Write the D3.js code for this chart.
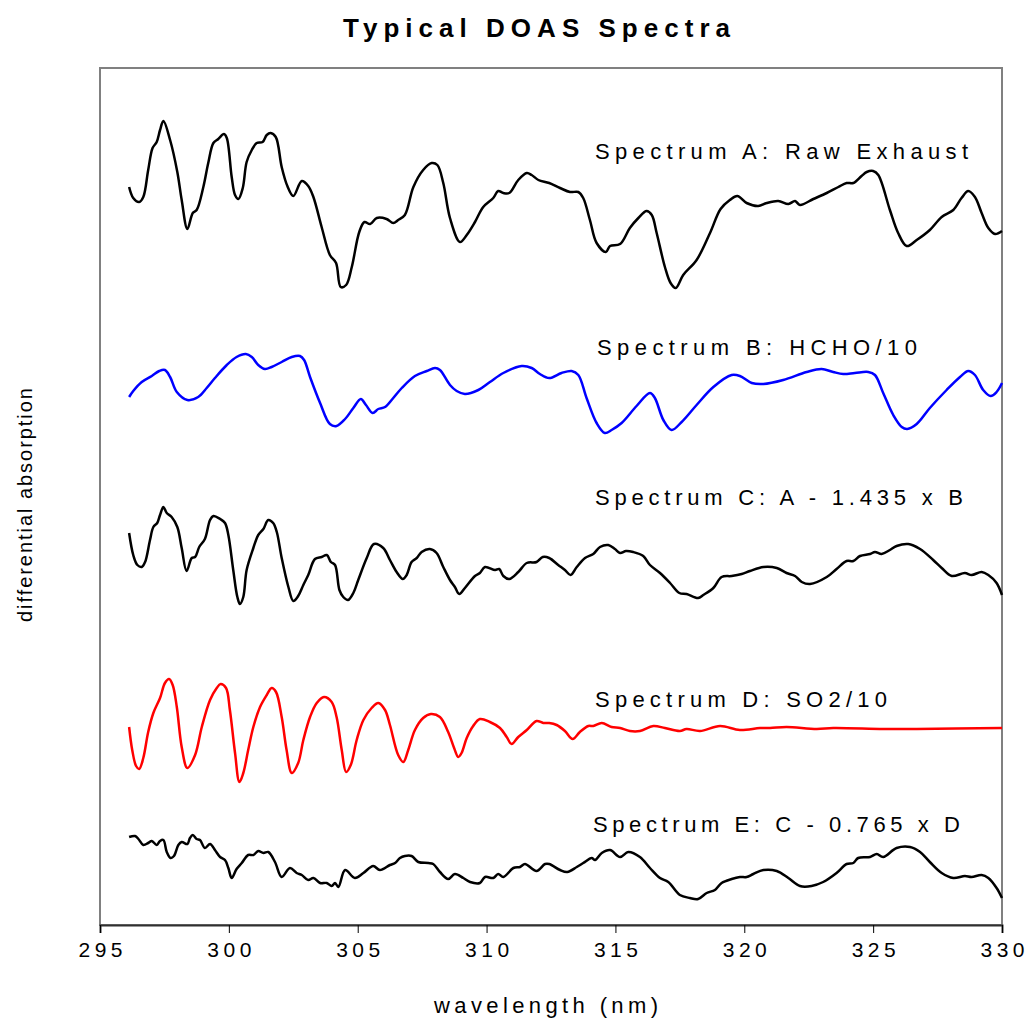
<!DOCTYPE html>
<html><head><meta charset="utf-8">
<script src="https://cdn.jsdelivr.net/npm/d3@7"></script>
<style>
body{margin:0;background:#fff}
text{font-family:"Liberation Sans",Arial,sans-serif;fill:#000}
</style>
</head><body>
<svg id="chart" width="1025" height="1019"></svg>
<script>
// ---------- data (wavelength nm, differential absorption, arbitrary offset units) ----------
const xTicks = [295,300,305,310,315,320,325,330];
const seriesNames = ["Spectrum A: Raw Exhaust","Spectrum B: HCHO/10","Spectrum C: A - 1.435 x B","Spectrum D: SO2/10","Spectrum E: C - 0.765 x D"];
const seriesColors = ["#000000","#0000ff","#000000","#ff0000","#000000"];

const spectrumA = [[296.13,73.8],[296.29,72.7],[296.52,72.3],[296.68,72.8],[296.87,75.5],[297.04,77.7],[297.20,78.3],[297.33,79.5],[297.46,80.4],[297.72,78.5],[298.00,75.3],[298.17,72.5],[298.39,69.6],[298.60,71.2],[298.75,71.5],[299.01,73.8],[299.20,76.2],[299.40,78.2],[299.59,78.6],[299.81,79.1],[299.92,78.7],[300.11,74.8],[300.24,73.0],[300.37,72.6],[300.54,73.7],[300.69,76.3],[300.89,77.5],[301.08,78.2],[301.31,78.3],[301.47,79.0],[301.62,79.2],[301.82,78.8],[302.05,75.8],[302.27,73.9],[302.50,72.9],[302.83,74.4],[303.08,73.9],[303.28,72.8],[303.60,69.8],[303.92,67.0],[304.16,66.2],[304.34,63.8],[304.55,64.0],[304.77,65.8],[305.06,69.3],[305.26,70.3],[305.48,70.1],[305.74,70.7],[306.12,70.6],[306.38,70.2],[306.57,70.5],[306.83,71.0],[307.16,73.8],[307.54,75.5],[307.87,76.2],[308.09,76.0],[308.32,74.2],[308.58,70.7],[308.97,68.3],[309.23,69.0],[309.55,70.3],[309.87,71.8],[310.26,72.7],[310.45,73.4],[310.65,73.2],[310.88,73.2],[311.23,74.5],[311.56,75.2],[311.75,75.0],[312.01,74.5],[312.43,74.2],[312.85,73.7],[313.24,73.3],[313.56,73.3],[313.75,72.7],[314.01,70.5],[314.27,68.2],[314.63,67.3],[314.79,67.9],[315.18,68.1],[315.56,69.7],[315.89,70.7],[316.21,71.4],[316.41,71.0],[316.60,69.2],[316.92,65.8],[317.14,64.2],[317.34,63.7],[317.63,65.0],[318.15,66.5],[318.67,69.2],[319.08,71.6],[319.44,72.5],[319.73,72.9],[320.09,72.2],[320.54,71.9],[320.87,72.2],[321.32,72.4],[321.71,72.1],[321.97,72.4],[322.16,72.0],[322.68,72.6],[323.20,73.2],[323.65,73.8],[323.97,74.2],[324.23,74.2],[324.55,74.9],[324.75,75.3],[325.00,75.4],[325.20,75.0],[325.65,71.5],[325.97,69.2],[326.30,67.9],[326.69,68.5],[327.20,69.5],[327.66,70.8],[328.11,71.5],[328.43,72.7],[328.69,73.4],[328.95,72.8],[329.21,71.2],[329.47,69.7],[329.73,69.1],[330.00,69.4]];

const spectrumB = [[296.13,52.8],[296.29,53.4],[296.62,54.3],[297.01,54.9],[297.30,55.4],[297.52,55.5],[297.72,54.8],[297.98,53.3],[298.39,52.5],[298.81,52.8],[299.14,53.7],[299.46,54.7],[299.92,56.0],[300.30,56.8],[300.66,57.1],[300.89,56.8],[301.14,56.0],[301.40,55.6],[301.66,55.8],[302.05,56.3],[302.44,56.8],[302.76,56.9],[302.92,56.5],[303.15,54.8],[303.54,52.2],[303.92,50.1],[304.18,49.9],[304.51,50.6],[304.83,51.7],[305.12,52.6],[305.32,52.0],[305.58,51.2],[305.80,51.6],[306.06,51.8],[306.38,52.7],[306.71,53.7],[307.22,54.9],[307.68,55.4],[308.00,55.7],[308.19,55.5],[308.58,54.0],[308.84,53.4],[309.16,53.1],[309.68,53.5],[310.13,54.3],[310.65,55.2],[311.36,55.9],[311.75,55.7],[312.07,55.1],[312.43,54.7],[312.91,55.2],[313.30,55.4],[313.56,55.0],[313.88,52.7],[314.27,50.2],[314.59,49.2],[314.85,49.5],[315.24,50.2],[315.82,51.9],[316.34,53.2],[316.53,52.7],[316.86,50.5],[317.18,49.5],[317.57,50.3],[318.15,52.0],[318.80,53.8],[319.51,55.0],[319.83,54.9],[320.29,54.2],[320.74,54.1],[321.51,54.5],[322.42,55.3],[323.00,55.6],[323.45,55.3],[323.84,55.1],[324.29,55.2],[324.81,55.3],[325.07,55.0],[325.39,53.2],[325.78,51.0],[326.11,49.8],[326.32,49.6],[326.69,50.1],[327.20,51.7],[327.85,53.5],[328.37,54.8],[328.69,55.4],[328.95,55.0],[329.27,53.5],[329.56,52.9],[329.79,53.3],[330.00,54.2]];

const spectrumC = [[296.13,39.2],[296.29,37.0],[296.45,36.0],[296.62,35.8],[296.75,36.3],[296.94,38.5],[297.07,39.8],[297.22,40.2],[297.33,41.0],[297.46,41.8],[297.59,41.2],[297.78,40.8],[298.00,39.8],[298.17,37.7],[298.36,35.4],[298.56,36.7],[298.69,36.8],[298.85,37.8],[299.07,38.6],[299.27,40.5],[299.40,40.9],[299.66,40.6],[299.85,40.2],[299.98,39.0],[300.17,35.5],[300.33,32.8],[300.43,32.1],[300.56,32.8],[300.69,35.5],[300.95,37.7],[301.14,39.0],[301.34,39.6],[301.53,40.5],[301.72,40.2],[301.86,39.3],[302.05,36.7],[302.31,33.8],[302.50,32.4],[302.69,32.9],[302.89,34.0],[303.08,35.0],[303.34,36.6],[303.60,36.8],[303.80,37.0],[303.96,36.3],[304.12,36.0],[304.29,33.5],[304.44,32.8],[304.63,32.5],[304.83,33.2],[305.02,34.5],[305.35,36.7],[305.63,38.1],[305.99,37.7],[306.25,36.5],[306.51,35.3],[306.75,34.6],[306.90,35.0],[307.09,36.3],[307.29,36.7],[307.48,37.3],[307.80,37.6],[308.06,37.2],[308.32,35.8],[308.58,34.5],[308.77,33.8],[308.94,33.1],[309.16,33.7],[309.55,34.9],[309.74,35.2],[309.94,35.8],[310.33,35.5],[310.49,35.6],[310.65,34.9],[310.88,34.6],[311.23,35.3],[311.56,36.2],[311.94,36.3],[312.18,36.8],[312.43,36.7],[312.78,36.0],[313.04,35.5],[313.26,35.0],[313.50,35.8],[313.82,36.7],[314.14,37.1],[314.40,37.8],[314.72,38.0],[314.98,37.6],[315.18,37.2],[315.41,37.4],[315.69,37.3],[316.08,36.9],[316.34,36.0],[316.73,35.2],[317.12,34.2],[317.48,33.2],[317.76,33.1],[318.21,32.7],[318.41,33.0],[318.80,33.7],[319.12,34.8],[319.51,34.9],[319.90,35.1],[320.22,35.4],[320.74,35.8],[321.26,35.7],[321.64,35.2],[321.97,34.9],[322.23,34.3],[322.55,34.1],[323.20,34.8],[323.58,35.6],[323.97,36.4],[324.23,36.4],[324.49,36.9],[324.88,37.1],[325.07,37.3],[325.33,37.1],[325.65,37.5],[325.91,37.9],[326.36,38.1],[326.82,37.6],[327.33,36.5],[327.66,35.7],[328.05,34.9],[328.56,35.2],[328.82,35.0],[329.21,35.3],[329.47,35.0],[329.79,34.2],[330.00,33.0]];

const spectrumD = [[296.13,19.8],[296.25,17.5],[296.40,15.9],[296.52,15.6],[296.68,16.7],[296.87,19.3],[297.07,21.2],[297.33,22.7],[297.52,24.2],[297.68,24.6],[297.82,24.0],[297.98,21.8],[298.17,17.8],[298.39,15.7],[298.69,17.0],[298.95,19.8],[299.27,22.5],[299.53,23.7],[299.68,24.1],[299.89,23.7],[300.04,21.5],[300.24,17.2],[300.41,14.3],[300.56,15.2],[300.75,17.5],[300.95,19.8],[301.21,21.8],[301.47,23.0],[301.66,23.7],[301.83,23.3],[302.05,20.8],[302.24,17.5],[302.44,15.2],[302.69,16.2],[302.89,18.5],[303.15,20.8],[303.41,22.2],[303.69,22.8],[303.99,22.3],[304.18,20.8],[304.38,17.5],[304.55,15.3],[304.73,16.0],[304.96,18.5],[305.22,20.5],[305.54,21.7],[305.80,22.2],[306.06,21.5],[306.25,20.0],[306.57,17.0],[306.77,16.3],[306.96,17.5],[307.22,19.5],[307.54,20.7],[307.84,21.1],[308.19,20.8],[308.51,19.3],[308.74,17.7],[308.90,16.8],[309.03,17.2],[309.23,18.7],[309.48,19.9],[309.74,20.6],[310.13,20.3],[310.52,19.7],[310.78,18.8],[310.97,18.1],[311.23,18.8],[311.56,19.5],[311.94,20.4],[312.20,20.2],[312.43,20.2],[312.72,20.0],[313.04,19.4],[313.34,18.6],[313.62,19.3],[313.95,19.9],[314.14,19.9],[314.47,20.2],[314.85,19.8],[315.18,19.7],[315.56,19.4],[315.95,19.4],[316.47,19.9],[316.92,19.7],[317.50,19.4],[317.76,19.6],[318.28,19.4],[319.06,19.9],[319.83,19.5],[320.61,19.7],[321.00,19.7],[321.64,19.8],[322.81,19.6],[323.45,19.7],[325.39,19.6],[326.69,19.6],[330.00,19.7]];

const spectrumE = [[296.13,8.8],[296.36,8.9],[296.49,8.6],[296.68,8.0],[296.87,8.2],[297.01,8.4],[297.20,8.0],[297.33,8.4],[297.46,8.5],[297.59,7.3],[297.74,6.7],[297.87,6.9],[298.04,8.0],[298.17,8.3],[298.39,8.1],[298.49,8.7],[298.60,9.0],[298.75,8.6],[298.88,8.5],[299.07,7.7],[299.27,8.1],[299.46,7.5],[299.66,6.8],[299.85,6.5],[299.98,5.7],[300.11,4.7],[300.30,5.6],[300.50,6.2],[300.75,7.0],[300.95,7.0],[301.14,7.4],[301.34,7.2],[301.53,7.3],[301.79,6.3],[302.05,4.8],[302.37,5.7],[302.63,5.2],[302.83,5.0],[303.08,4.5],[303.28,4.7],[303.54,4.2],[303.80,4.2],[303.99,3.9],[304.12,4.2],[304.25,3.8],[304.51,5.5],[304.89,4.7],[305.22,5.2],[305.60,5.9],[305.86,5.5],[306.25,6.0],[306.45,6.2],[306.64,6.7],[306.83,6.9],[307.09,6.9],[307.35,6.3],[307.74,6.2],[307.93,6.1],[308.19,5.3],[308.51,4.6],[308.77,5.1],[309.10,4.7],[309.36,4.3],[309.74,4.2],[309.94,4.8],[310.26,4.7],[310.45,5.1],[310.65,4.8],[311.04,5.7],[311.30,5.8],[311.49,6.1],[311.94,5.4],[312.27,6.1],[312.43,6.1],[312.85,5.5],[313.13,5.3],[313.50,5.8],[313.75,6.2],[314.08,6.7],[314.21,6.5],[314.47,7.2],[314.79,7.5],[315.18,6.8],[315.50,7.3],[315.95,6.8],[316.34,5.7],[316.73,4.7],[317.05,4.3],[317.50,3.0],[317.89,2.7],[318.21,2.6],[318.54,3.2],[318.86,3.5],[319.12,4.2],[319.51,4.6],[319.83,4.8],[320.09,4.8],[320.35,5.1],[320.74,5.5],[321.26,5.4],[321.71,4.7],[322.16,3.9],[322.61,3.9],[323.06,4.3],[323.58,5.2],[323.97,6.1],[324.23,6.2],[324.42,6.7],[324.88,6.8],[325.14,7.1],[325.39,6.8],[325.91,7.7],[326.43,7.8],[326.82,7.3],[327.20,6.3],[327.66,5.2],[328.11,4.7],[328.56,4.9],[328.82,4.8],[329.21,5.0],[329.47,4.7],[329.79,3.7],[330.00,2.7]];

const allSpectra = [spectrumA, spectrumB, spectrumC, spectrumD, spectrumE];

// ---------- layout (kept apart from data) ----------
const plot = {left:100, right:1002, top:68, bottom:925};
const labelLayout = [ // start x px, baseline y px, width px
  {x:595, y:159, w:373},
  {x:597, y:355, w:320},
  {x:595, y:505, w:368},
  {x:595, y:707, w:292},
  {x:593, y:832, w:367}
];

const svg = d3.select("#chart");
const x = d3.scaleLinear().domain([295,330]).range([plot.left, plot.right]);
const y = d3.scaleLinear().domain([0,85.7]).range([plot.bottom, plot.top]);

// frame
svg.append("rect")
  .attr("x", plot.left).attr("y", plot.top)
  .attr("width", plot.right-plot.left).attr("height", plot.bottom-plot.top)
  .attr("fill","none").attr("stroke","#808080").attr("stroke-width",2);

// x axis
const xAxis = d3.axisBottom(x).tickValues(xTicks).tickSize(8).tickFormat(d3.format("d"));
const gx = svg.append("g").attr("transform",`translate(0,${plot.bottom})`).call(xAxis);
gx.select(".domain").attr("stroke","#303030").attr("stroke-width",2);
gx.selectAll(".tick line").attr("stroke","#000").attr("stroke-width",1);
gx.selectAll(".tick text")
  .attr("y", 32).attr("dy", null)
  .style("font-family",'"Liberation Sans",Arial,sans-serif')
  .style("font-size","21px").attr("fill","#000")
  .attr("textLength",44).attr("lengthAdjust","spacing");

// lines
const line = d3.line()
  .x(d => x(d[0])).y(d => y(d[1]))
  .curve(d3.curveCatmullRom.alpha(0.5));

svg.append("g").selectAll("path")
  .data(allSpectra)
  .join("path")
  .attr("d", line)
  .attr("fill","none")
  .attr("stroke",(d,i)=>seriesColors[i])
  .attr("stroke-width",2.5)
  .attr("stroke-linejoin","round");

// series labels
svg.append("g").selectAll("text")
  .data(seriesNames)
  .join("text")
  .attr("x",(d,i)=>labelLayout[i].x)
  .attr("y",(d,i)=>labelLayout[i].y)
  .attr("textLength",(d,i)=>labelLayout[i].w)
  .attr("lengthAdjust","spacing")
  .style("font-size","22px")
  .text(d=>d);

// title
svg.append("text")
  .attr("x",343).attr("y",37)
  .attr("textLength",387).attr("lengthAdjust","spacing")
  .style("font-size","26px").style("font-weight","bold")
  .text("Typical DOAS Spectra");

// x axis title
svg.append("text")
  .attr("x",434).attr("y",1013)
  .attr("textLength",224).attr("lengthAdjust","spacing")
  .style("font-size","22px")
  .text("wavelength (nm)");

// y axis title
svg.append("text")
  .attr("transform","translate(32,622) rotate(-90)")
  .attr("x",0).attr("y",0)
  .attr("textLength",234).attr("lengthAdjust","spacing")
  .style("font-size","20px")
  .text("differential absorption");
</script>
</body></html>
